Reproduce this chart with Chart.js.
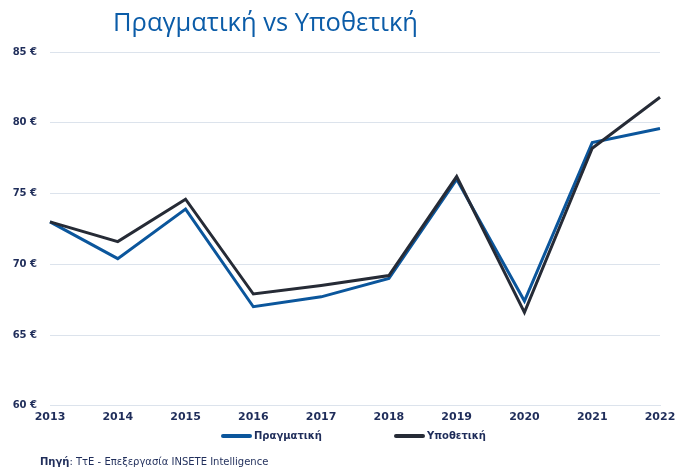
<!DOCTYPE html>
<html>
<head>
<meta charset="utf-8">
<script src="https://cdn.jsdelivr.net/npm/chart.js@4"></script>
<style>
    html, body { margin: 0; padding: 0; background: #fff; }
    #wrap { position: relative; width: 675px; height: 471px; }
    #title {
        position: absolute; left: 113px; top: 4px;
        font-family: "Open Sans", sans-serif; font-size: 25.5px; color: #0b5ca8;
        white-space: nowrap;
    }
    #legend {
        position: absolute; left: 221px; top: 430px; display: flex;
        font-family: "DejaVu Sans", sans-serif; font-size: 10px; font-weight: bold; color: #1f2d5a;
    }
    #legend .item { display: flex; align-items: center; margin-right: 72px; }
    #legend .swatch { width: 31px; height: 4px; border-radius: 2px; margin-right: 2px; }
    #source {
        position: absolute; left: 40px; top: 456px;
        font-family: "DejaVu Sans", sans-serif; font-size: 10px; color: #1f2d5a;
        white-space: nowrap;
    }
</style>
</head>
<body>
<div id="wrap">
    <canvas id="chart" width="675" height="471"></canvas>
    <div id="title">Πραγματική vs Υποθετική</div>
    <div id="legend"></div>
    <div id="source"><b>Πηγή</b>: ΤτΕ - Επεξεργασία INSETE Intelligence</div>
</div>
<script>
const years = ['2013', '2014', '2015', '2016', '2017', '2018', '2019', '2020', '2021', '2022'];
const actualValues = [73.0, 70.4, 73.9, 67.0, 67.7, 69.0, 76.0, 67.4, 78.6, 79.6];
const hypotheticalValues = [73.0, 71.6, 74.6, 67.9, 68.5, 69.2, 76.2, 66.6, 78.2, 81.8];
const seriesNames = ['Πραγματική', 'Υποθετική'];

const navy = '#1f2d5a';
const gridColor = '#dce3ec';

const chart = new Chart(document.getElementById('chart'), {
    type: 'line',
    data: {
        labels: years,
        datasets: [{
            label: seriesNames[0],
            data: actualValues,
            borderColor: '#0b569c',
            backgroundColor: '#0b569c',
            borderWidth: 3,
            pointRadius: 0,
            tension: 0,
            order: 2
        }, {
            label: seriesNames[1],
            data: hypotheticalValues,
            borderColor: '#262b36',
            backgroundColor: '#262b36',
            borderWidth: 3,
            pointRadius: 0,
            tension: 0,
            order: 1
        }]
    },
    options: {
        responsive: false,
        animation: false,
        layout: { padding: { top: 52, right: 15, left: 0, bottom: 50 } },
        plugins: {
            legend: { display: false },
            tooltip: { enabled: false }
        },
        scales: {
            x: {
                grid: { display: false },
                border: { color: gridColor },
                ticks: {
                    color: navy,
                    maxRotation: 0,
                    padding: -3,
                    font: { family: 'DejaVu Sans', size: 11, weight: 'bold' }
                }
            },
            y: {
                min: 60,
                max: 85,
                afterFit: scale => { scale.width = 50; },
                grid: { color: gridColor, drawTicks: false },
                border: { display: false },
                ticks: {
                    stepSize: 5,
                    padding: 13,
                    color: navy,
                    font: { family: 'DejaVu Sans', size: 10, weight: 'bold' },
                    callback: v => v + ' €'
                }
            }
        }
    }
});

// legend built from the chart's datasets
const legendBox = document.getElementById('legend');
for (const ds of chart.data.datasets) {
    const item = document.createElement('div');
    item.className = 'item';
    const swatch = document.createElement('span');
    swatch.className = 'swatch';
    swatch.style.background = ds.borderColor;
    item.appendChild(swatch);
    item.appendChild(document.createTextNode(ds.label));
    legendBox.appendChild(item);
}
</script>
</body>
</html>
